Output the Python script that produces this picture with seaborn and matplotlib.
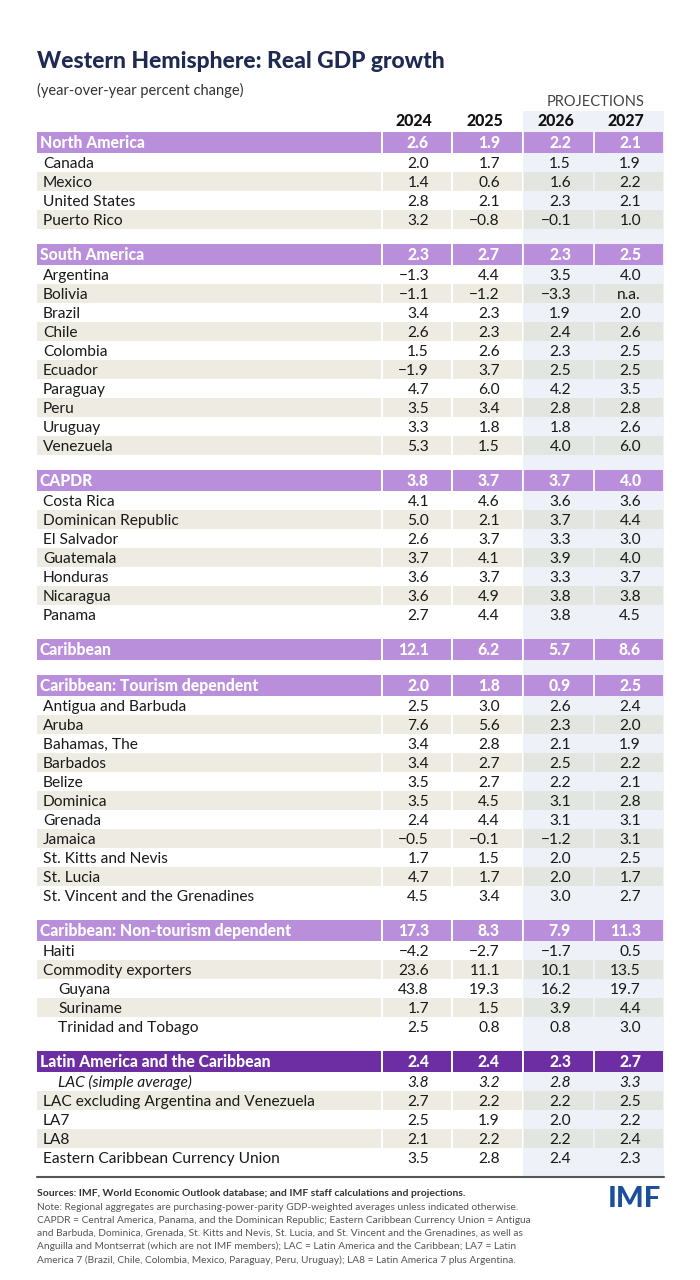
import matplotlib.pyplot as plt
import seaborn as sns

# Dados da tabela (crescimento do PIB real, %)
years = ["2024", "2025", "2026", "2027"]

groups = ["North America", "South America", "CAPDR", "Caribbean",
          "Caribbean: Tourism dependent", "Caribbean: Non-tourism dependent",
          "Latin America and the Caribbean"]
group_values = [[2.6, 1.9, 2.2, 2.1], [2.3, 2.7, 2.3, 2.5], [3.8, 3.7, 3.7, 4.0],
                [12.1, 6.2, 5.7, 8.6], [2.0, 1.8, 0.9, 2.5], [17.3, 8.3, 7.9, 11.3],
                [2.4, 2.4, 2.3, 2.7]]

na_names = ["Canada", "Mexico", "United States", "Puerto Rico"]
na_values = [[2.0, 1.7, 1.5, 1.9], [1.4, 0.6, 1.6, 2.2], [2.8, 2.1, 2.3, 2.1],
             [3.2, -0.8, -0.1, 1.0]]

sa_names = ["Argentina", "Bolivia", "Brazil", "Chile", "Colombia", "Ecuador",
            "Paraguay", "Peru", "Uruguay", "Venezuela"]
sa_values = [[-1.3, 4.4, 3.5, 4.0], [-1.1, -1.2, -3.3, None], [3.4, 2.3, 1.9, 2.0],
             [2.6, 2.3, 2.4, 2.6], [1.5, 2.6, 2.3, 2.5], [-1.9, 3.7, 2.5, 2.5],
             [4.7, 6.0, 4.2, 3.5], [3.5, 3.4, 2.8, 2.8], [3.3, 1.8, 1.8, 2.6],
             [5.3, 1.5, 4.0, 6.0]]

capdr_names = ["Costa Rica", "Dominican Republic", "El Salvador", "Guatemala",
               "Honduras", "Nicaragua", "Panama"]
capdr_values = [[4.1, 4.6, 3.6, 3.6], [5.0, 2.1, 3.7, 4.4], [2.6, 3.7, 3.3, 3.0],
                [3.7, 4.1, 3.9, 4.0], [3.6, 3.7, 3.3, 3.7], [3.6, 4.9, 3.8, 3.8],
                [2.7, 4.4, 3.8, 4.5]]

carib_names = []
carib_values = []

tour_names = ["Antigua and Barbuda", "Aruba", "Bahamas, The", "Barbados", "Belize",
              "Dominica", "Grenada", "Jamaica", "St. Kitts and Nevis", "St. Lucia",
              "St. Vincent and the Grenadines"]
tour_values = [[2.5, 3.0, 2.6, 2.4], [7.6, 5.6, 2.3, 2.0], [3.4, 2.8, 2.1, 1.9],
               [3.4, 2.7, 2.5, 2.2], [3.5, 2.7, 2.2, 2.1], [3.5, 4.5, 3.1, 2.8],
               [2.4, 4.4, 3.1, 3.1], [-0.5, -0.1, -1.2, 3.1], [1.7, 1.5, 2.0, 2.5],
               [4.7, 1.7, 2.0, 1.7], [4.5, 3.4, 3.0, 2.7]]

nontour_names = ["Haiti", "Commodity exporters", "Guyana", "Suriname",
                 "Trinidad and Tobago"]
nontour_values = [[-4.2, -2.7, -1.7, 0.5], [23.6, 11.1, 10.1, 13.5],
                  [43.8, 19.3, 16.2, 19.7], [1.7, 1.5, 3.9, 4.4], [2.5, 0.8, 0.8, 3.0]]
nontour_indent = [0, 0, 1, 1, 1]

lac_names = ["LAC (simple average)", "LAC excluding Argentina and Venezuela",
             "LA7", "LA8", "Eastern Caribbean Currency Union"]
lac_values = [[3.8, 3.2, 2.8, 3.3], [2.7, 2.2, 2.2, 2.5], [2.5, 1.9, 2.0, 2.2],
              [2.1, 2.2, 2.2, 2.4], [3.5, 2.8, 2.4, 2.3]]
lac_indent = [1, 0, 0, 0, 0]

blocos = [
    (na_names, na_values, None),
    (sa_names, sa_values, None),
    (capdr_names, capdr_values, None),
    (carib_names, carib_values, None),
    (tour_names, tour_values, None),
    (nontour_names, nontour_values, nontour_indent),
    (lac_names, lac_values, lac_indent),
]

notas = [
    "Note: Regional aggregates are purchasing-power-parity GDP-weighted averages unless indicated otherwise.",
    "CAPDR = Central America, Panama, and the Dominican Republic; Eastern Caribbean Currency Union = Antigua",
    "and Barbuda, Dominica, Grenada, St. Kitts and Nevis, St. Lucia, and St. Vincent and the Grenadines, as well as",
    "Anguilla and Montserrat (which are not IMF members); LAC = Latin America and the Caribbean; LA7 = Latin",
    "America 7 (Brazil, Chile, Colombia, Mexico, Paraguay, Peru, Uruguay); LA8 = Latin America 7 plus Argentina.",
]

sns.set_theme(style="white")
plt.rcParams['font.family'] = ['Lato', 'DejaVu Sans']

roxo = '#b98fdc'
roxo_escuro = '#6c2ea2'
bege = '#eeece2'
bege_proj = '#e3e5e0'
azul_proj = '#eef1f7'

fig = plt.figure(figsize=(7, 12.8), dpi=100)
ax = fig.add_axes([0, 0, 1, 1])
ax.set_xlim(0, 700)
ax.set_ylim(1280, 0)
ax.axis('off')

bordas = [37, 382, 452, 523, 594, 664]
H, R, G = 21, 19, 15
fs_dado = 11.2
fs_cab = 11.3
desloc = 5.5  # distancia do centro da linha ate a linha de base do texto


def fmt(v):
    if v is None:
        return "n.a."
    return f"{v:.1f}".replace("-", "\u2212")


def faixa(y0, h, cores):
    # celula do rotulo + 4 celulas numericas
    ax.barh(y0 + h / 2, bordas[1] - 1 - bordas[0], left=bordas[0], height=h,
            color=cores[0], zorder=1, linewidth=0)
    for i in range(4):
        l = bordas[i + 1] + 1
        r = bordas[i + 2] - 1
        ax.barh(y0 + h / 2, r - l, left=l, height=h, color=cores[i + 1],
                zorder=1, linewidth=0)


# area de projecoes
ax.barh((111 + 1177) / 2, bordas[5] - bordas[3], left=bordas[3], height=1177 - 111,
        color=azul_proj, zorder=0, linewidth=0)

# titulo
ax.text(37, 62, "Western Hemisphere: Real GDP growth", fontsize=16.5, fontweight='black',
        color='#1f2a52', va='center')
ax.text(37, 90, "(year-over-year percent change)", fontsize=10.5, color='#333333',
        va='center')
ax.text(645, 102, "PROJECTIONS", fontsize=10.5, color='#444444',
        ha='right', va='center')
for i, ano in enumerate(years):
    ax.text(bordas[i + 2] - 20, 121 + desloc, ano, fontsize=11.5, fontweight='black',
            color='#111111', ha='right', va='baseline')

y = 132
for g, (nome, vals_g) in enumerate(zip(groups, group_values)):
    cor = roxo_escuro if g == len(groups) - 1 else roxo
    faixa(y, H, [cor] * 5)
    yb = y + H / 2 + desloc
    ax.text(40, yb, nome, fontsize=fs_cab, fontweight='black', color='white',
            va='baseline', zorder=3)
    for i, v in enumerate(vals_g):
        ax.text(bordas[i + 2] - 23, yb, fmt(v), fontsize=fs_cab, fontweight='black',
                color='white', ha='right', va='baseline', zorder=3)
    y += H
    nomes, valores, recuo = blocos[g]
    for k, (n, vals) in enumerate(zip(nomes, valores)):
        if k % 2 == 1:
            faixa(y, R, [bege, bege, bege, bege_proj, bege_proj])
        yb = y + R / 2 + desloc
        ind = recuo[k] if recuo else 0
        estilo = 'italic' if n.startswith("LAC (") else 'normal'
        ax.text(43 + 15 * ind, yb, n, fontsize=fs_dado, color='#1a1a1a', va='baseline',
                style=estilo, zorder=3)
        for i, v in enumerate(vals):
            ax.text(bordas[i + 2] - 23, yb, fmt(v), fontsize=fs_dado, color='#1a1a1a',
                    ha='right', va='baseline', style=estilo, zorder=3)
        y += R
    y += G

# linha inferior
ax.plot([bordas[0], bordas[5]], [1177, 1177], color='#555555', lw=1.5, zorder=3)

# rodape
ax.text(37, 1193, "Sources: IMF, World Economic Outlook database; and IMF staff calculations and projections.",
        fontsize=7.5, fontweight='bold', color='#333333', va='center')
for j, linha in enumerate(notas):
    ax.text(37, 1207 + 13.2 * j, linha, fontsize=7.3, color='#555555', va='center')
ax.text(661, 1199, "IMF", fontsize=21, fontweight='black', color='#1b4e9b',
        ha='right', va='center')

plt.savefig('out.png', dpi=100)
